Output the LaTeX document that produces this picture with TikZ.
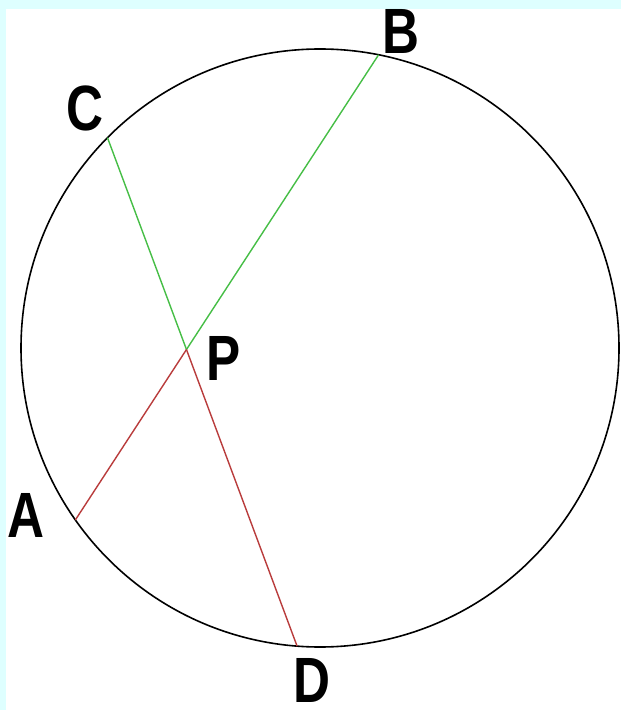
\documentclass[tikz,border=0pt]{standalone}
\usepackage{fontspec}
\setmainfont{Liberation Sans}
\usetikzlibrary{calc}
\definecolor{bgcyan}{RGB}{222,255,255}
\definecolor{chordgreen}{RGB}{70,190,70}
\definecolor{chordred}{RGB}{185,60,60}
\tikzset{
  lbl/.style={inner sep=0pt, font=\fontsize{32}{32}\selectfont\bfseries, xscale=0.8},
  greenchord/.style={draw=chordgreen, line width=0.7pt},
  redchord/.style={draw=chordred, line width=0.7pt},
  rim/.style={draw=black, line width=0.8pt}
}
\begin{document}
\begin{tikzpicture}[x=0.5pt, y=-0.5pt]
  \useasboundingbox (0,0) rectangle (621,710);
  \fill[bgcyan] (0,0) rectangle (621,710);
  \fill[white] (6,9) rectangle (621,710);
  \coordinate (O) at (320,348);
  \draw[rim] (O) circle[radius=149.5pt];
  \coordinate (B) at ($(O)+(78.7:149.5pt)$);
  \coordinate (C) at ($(O)+(135.3:149.5pt)$);
  \coordinate (A) at ($(O)+(215.1:149.5pt)$);
  \coordinate (D) at ($(O)+(265.6:149.5pt)$);
  \coordinate (P) at (intersection of A--B and C--D);
  \draw[greenchord] (C) -- (P);
  \draw[greenchord] (B) -- (P);
  \draw[redchord] (A) -- (P);
  \draw[redchord] (D) -- (P);
  \node[lbl] (lB) at (401,31) {B};
  \node[lbl] (lC) at (85,108) {C};
  \node[lbl] (lP) at (224,358) {P};
  \node[lbl] (lA) at (26,515) {A};
  \node[lbl] (lD) at (312,680) {D};
\end{tikzpicture}
\end{document}
